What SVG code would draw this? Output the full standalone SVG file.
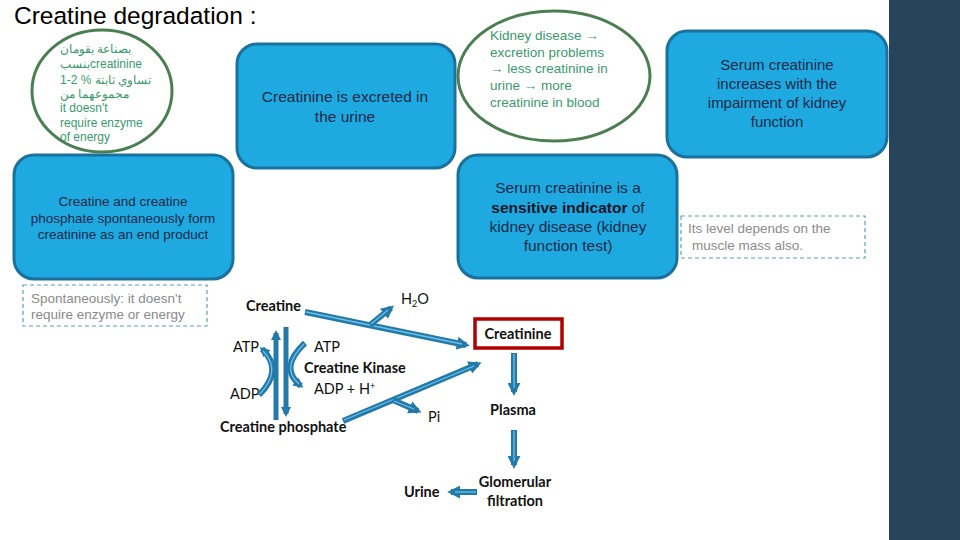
<svg xmlns="http://www.w3.org/2000/svg" width="960" height="540" viewBox="0 0 960 540">
<defs>
<style>
.box{fill:#1fa9e1;stroke:#1a729c;stroke-width:3}
.bt{font-family:"Liberation Sans",Arial,sans-serif;fill:#1b2a48;text-anchor:middle}
.ell{fill:#ffffff;stroke:#4b7f52;stroke-width:3}
.gt{font-family:"Liberation Sans",Arial,"Noto Sans",sans-serif;fill:#3a9a6e}
.dash{fill:#ffffff;stroke:#5aa0bf;stroke-width:1.2;stroke-dasharray:4 3}
.gr{font-family:"Liberation Sans",Arial,sans-serif;fill:#8a8a8a}
.lb{font-family:Lato,"Open Sans",sans-serif;font-weight:bold;font-size:14.5px;fill:#111}
.lr{font-family:Lato,"Open Sans",sans-serif;font-size:14.5px;fill:#111}
.ao{fill:none;stroke:#2379a8;stroke-width:6;stroke-linecap:butt}
.ai{fill:none;stroke:#6cc0ea;stroke-width:1.3}
.av{fill:none;stroke:#2379a8;stroke-width:5}
</style>
<marker id="ah" viewBox="0 0 10 10" refX="7" refY="5" markerWidth="13" markerHeight="13" markerUnits="userSpaceOnUse" orient="auto">
<path d="M0,0 L10,5 L0,10 z" fill="#2379a8"/>
</marker>
<marker id="ahs" viewBox="0 0 10 10" refX="7" refY="5" markerWidth="10" markerHeight="10" markerUnits="userSpaceOnUse" orient="auto">
<path d="M0,0 L10,5 L0,10 z" fill="#2379a8"/>
</marker>
</defs>
<rect x="0" y="0" width="960" height="540" fill="#ffffff"/>
<rect x="889" y="0" width="71" height="540" fill="#27445a"/>
<text x="14" y="24" font-family="'Liberation Sans',Arial,sans-serif" font-size="24.5" fill="#000">Creatine degradation :</text>

<g id="ellipse-arabic">
<ellipse class="ell" cx="102" cy="91" rx="70" ry="61"/>
<text class="gt" font-size="12"><tspan x="60" y="53">بصناعة يقومان</tspan><tspan x="60" y="68">بنسبcreatinine</tspan><tspan x="60" y="84">1-2 % تساوي ثابتة</tspan><tspan x="60" y="98">مجموعهما من</tspan><tspan x="60" y="112">it doesn't</tspan><tspan x="60" y="127">require enzyme</tspan><tspan x="60" y="141">of energy</tspan></text>
</g>

<g id="box-excreted">
<rect class="box" x="237" y="44" width="218" height="124" rx="20"/>
<text class="bt" font-size="15.5"><tspan x="345" y="102">Creatinine is excreted in</tspan><tspan x="345" y="122">the urine</tspan></text>
</g>

<g id="ellipse-kidney">
<ellipse class="ell" cx="554" cy="76" rx="96" ry="65"/>
<text class="gt" font-size="13.5"><tspan x="490" y="40">Kidney disease →</tspan><tspan x="490" y="57">excretion problems</tspan><tspan x="490" y="73">→ less creatinine in</tspan><tspan x="490" y="90">urine → more</tspan><tspan x="490" y="107">creatinine in blood</tspan></text>
</g>

<g id="box-serum-increase">
<rect class="box" x="667" y="31" width="220" height="126" rx="20"/>
<text class="bt" font-size="15"><tspan x="777" y="70">Serum creatinine</tspan><tspan x="777" y="89">increases with the</tspan><tspan x="777" y="108">impairment of kidney</tspan><tspan x="777" y="127">function</tspan></text>
</g>

<g id="box-spontaneous">
<rect class="box" x="14" y="155" width="219" height="124" rx="20"/>
<text class="bt" font-size="13.5"><tspan x="123" y="206">Creatine and creatine</tspan><tspan x="123" y="223">phosphate spontaneously form</tspan><tspan x="123" y="239">creatinine as an end product</tspan></text>
</g>

<g id="box-sensitive">
<rect class="box" x="458" y="155" width="219" height="123" rx="20"/>
<text class="bt" font-size="15.5"><tspan x="568" y="193">Serum creatinine is a</tspan><tspan x="568" y="213"><tspan font-weight="bold" fill="#0d1528">sensitive indicator</tspan> of</tspan><tspan x="568" y="232">kidney disease (kidney</tspan><tspan x="568" y="251">function test)</tspan></text>
</g>

<g id="note-muscle">
<rect class="dash" x="681" y="216" width="184" height="42"/>
<text class="gr" font-size="13.5"><tspan x="688" y="233">Its level depends on the</tspan><tspan x="692" y="250">muscle mass also.</tspan></text>
</g>

<g id="note-spont">
<rect class="dash" x="23" y="285" width="184" height="41"/>
<text class="gr" font-size="13.5"><tspan x="31" y="303">Spontaneously: it doesn't</tspan><tspan x="31" y="319">require enzyme or energy</tspan></text>
</g>

<g id="lbl-creatine"><text class="lb" x="246" y="311">Creatine</text></g>
<g id="lbl-h2o"><text class="lr" x="401" y="304">H<tspan font-size="9" dy="3">2</tspan><tspan dy="-3">O</tspan></text></g>
<g id="lbl-atp-left"><text class="lr" x="233" y="352">ATP</text></g>
<g id="lbl-adp-left"><text class="lr" x="230" y="399">ADP</text></g>
<g id="lbl-atp-right"><text class="lr" x="314" y="352">ATP</text></g>
<g id="lbl-kinase"><text class="lb" x="304" y="373">Creatine Kinase</text></g>
<g id="lbl-adp-right"><text class="lr" x="314" y="394">ADP + H<tspan font-size="9" dy="-5">+</tspan></text></g>
<g id="lbl-cp"><text class="lb" x="220" y="432">Creatine phosphate</text></g>
<g id="lbl-pi"><text class="lr" x="428" y="422">Pi</text></g>
<g id="node-creatinine">
<rect x="475" y="319" width="87" height="29" fill="#ffffff" stroke="#b00000" stroke-width="3.5"/>
<text class="lb" x="518" y="339" text-anchor="middle">Creatinine</text>
</g>
<g id="lbl-plasma"><text class="lb" x="513" y="415" text-anchor="middle">Plasma</text></g>
<g id="lbl-glom"><text class="lb" text-anchor="middle"><tspan x="515" y="487">Glomerular</tspan><tspan x="515" y="506">filtration</tspan></text></g>
<g id="lbl-urine"><text class="lb" x="404" y="497">Urine</text></g>

<g id="connectors">
<path class="ao" d="M305,312 L466,345" marker-end="url(#ah)"/>
<path class="ai" d="M306,312 L462,344"/>
<path class="ao" d="M370,325 L391,308" marker-end="url(#ah)"/>
<path class="ai" d="M371,324 L388,310"/>
<path class="ao" d="M343,421 L478,364" marker-end="url(#ah)"/>
<path class="ai" d="M344,420 L474,366"/>
<path class="ao" d="M393,400 L418,411" marker-end="url(#ah)"/>
<path class="ai" d="M394,401 L414,409"/>
<path class="ao" d="M514,353 L514,392" marker-end="url(#ah)"/>
<path class="ai" d="M514,354 L514,388"/>
<path class="ao" d="M514,430 L514,465" marker-end="url(#ah)"/>
<path class="ai" d="M514,431 L514,461"/>
<path class="ao" d="M477,492 L451,492" marker-end="url(#ah)"/>
<path class="ai" d="M476,492 L455,492"/>
<path class="av" d="M276,420 L276,333" marker-end="url(#ahs)"/>
<path class="av" d="M286,327 L286,414" marker-end="url(#ahs)"/>
<path class="ao" d="M259,395 Q284,370 262,349" marker-end="url(#ahs)"/>
<path class="ai" d="M260,394 Q282,370 263,351"/>
<path class="ao" d="M305,343 Q278,368 301,386" marker-end="url(#ahs)"/>
<path class="ai" d="M304,344 Q280,368 299,384"/>
</g>
</svg>
